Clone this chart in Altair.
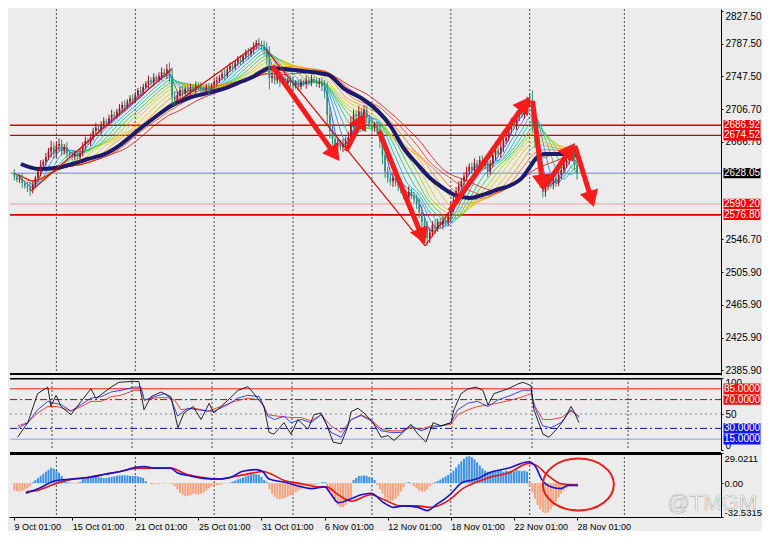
import math
import altair as alt
import numpy as np
import pandas as pd

# ---------------- data ----------------
x_label_bars = [0, 24, 48, 72, 96, 120, 144, 168, 192, 216]
x_labels = ["9 Oct 01:00", "15 Oct 01:00", "21 Oct 01:00", "25 Oct 01:00", "31 Oct 01:00",
            "6 Nov 01:00", "12 Nov 01:00", "18 Nov 01:00", "22 Nov 01:00", "28 Nov 01:00"]
grid_bars = [18, 48, 78, 108, 138, 168, 198, 234]

first_open = 2636
close = [2632, 2628, 2624, 2620, 2622, 2616, 2612, 2610, 2607, 2614,
         2622, 2630, 2638, 2642, 2648, 2655, 2660, 2652, 2662, 2664,
         2655, 2660, 2652, 2650, 2648, 2652, 2648, 2653, 2662, 2668,
         2666, 2672, 2680, 2684, 2680, 2688, 2692, 2690, 2696, 2700,
         2698, 2704, 2708, 2712, 2710, 2716, 2720, 2718, 2724, 2730,
         2728, 2734, 2738, 2742, 2740, 2746, 2744, 2748, 2752, 2750,
         2756, 2748, 2722, 2718, 2724, 2730, 2726, 2732, 2728, 2734,
         2730, 2736, 2734, 2732, 2730, 2734, 2730, 2736, 2740, 2742,
         2746, 2750, 2748, 2756, 2760, 2758, 2764, 2768, 2766, 2772,
         2776, 2774, 2780, 2784, 2788, 2786, 2784, 2780, 2770, 2745,
         2748, 2742, 2746, 2740, 2744, 2738, 2742, 2740, 2736, 2738,
         2734, 2740, 2738, 2742, 2740, 2744, 2742, 2738, 2740, 2735,
         2728, 2700, 2680, 2670, 2662, 2665, 2660, 2664, 2668, 2672,
         2690, 2700, 2698, 2704, 2700, 2706, 2696, 2688, 2684, 2686,
         2680, 2668, 2650, 2630, 2622, 2618, 2622, 2616, 2612, 2608,
         2602, 2598, 2605, 2600, 2596, 2590, 2580, 2568, 2560, 2548,
         2555, 2564, 2560, 2568, 2565, 2570, 2568, 2575, 2586, 2595,
         2606, 2612, 2618, 2624, 2630, 2636, 2632, 2640, 2636, 2644,
         2638, 2642, 2630, 2640, 2650, 2656, 2652, 2660, 2668, 2672,
         2682, 2690, 2686, 2698, 2704, 2700, 2712, 2716, 2718, 2690,
         2668, 2650, 2620, 2605, 2612, 2618, 2614, 2622, 2616, 2626,
         2632, 2640, 2644, 2648, 2650, 2638, 2628]
wick = [4, 3, 5, 3, 4, 6, 3, 5, 7, 4,
        3, 4, 6, 3, 5, 4, 8, 6, 4, 7,
        5, 4, 6, 3, 5, 4, 3, 6, 4, 5,
        3, 5, 4, 6, 3, 4, 5, 3, 4, 6,
        4, 3, 5, 4, 6, 3, 4, 5, 4, 3,
        5, 4, 3, 6, 4, 5, 3, 4, 6, 5,
        6, 8, 10, 7, 5, 4, 6, 3, 5, 4,
        3, 5, 4, 6, 3, 4, 5, 3, 4, 5,
        3, 4, 6, 3, 4, 5, 3, 4, 5, 3,
        4, 6, 3, 5, 4, 6, 5, 7, 9, 14,
        6, 5, 4, 6, 3, 5, 4, 6, 7, 4,
        5, 4, 3, 6, 4, 5, 3, 4, 5, 6,
        8, 12, 9, 7, 6, 5, 4, 6, 5, 7,
        8, 6, 5, 7, 4, 6, 5, 4, 6, 5,
        6, 9, 11, 8, 6, 5, 7, 4, 6, 5,
        6, 5, 7, 4, 5, 6, 7, 8, 6, 9,
        6, 5, 7, 4, 5, 6, 4, 5, 7, 6,
        5, 6, 4, 5, 6, 4, 5, 6, 4, 5,
        6, 5, 7, 4, 5, 6, 4, 5, 6, 4,
        5, 6, 4, 5, 6, 4, 5, 6, 7, 12,
        9, 8, 10, 7, 6, 5, 4, 6, 5, 4,
        5, 4, 6, 5, 4, 6, 8]

navy_bar = [-1.1, 4.5, 11.2, 17.6, 24, 30, 36.4, 42.7, 48.7, 55.1, 61.5, 68.2, 73.9, 81.4,
            88.9, 92.6, 96.4, 99, 105, 111.4, 117.7, 121.5, 127.5, 133.9, 140.2, 145.1,
            150, 155.2, 160.1, 165, 169.5, 175.1, 180, 186.4, 190.1, 195, 197.6, 200.2,
            204, 208.8, 212.6, 216.3]
navy_price = [2645.5, 2639.3, 2633.2, 2634.4, 2639.3, 2645.5, 2651.6, 2663.9, 2679.9,
              2695.9, 2710.7, 2720.5, 2725.4, 2731.6, 2741.4, 2746.3, 2753.7, 2757.4,
              2756.2, 2753.7, 2751.2, 2748.8, 2731.6, 2720.5, 2704.5, 2686.0, 2659.0,
              2639.3, 2622.1, 2609.8, 2601.2, 2597.5, 2601.2, 2608.6, 2612.3, 2622.1,
              2633.2, 2645.5, 2651.6, 2651.6, 2651.6, 2649.2]

ribbon_periods = [4, 7, 10, 13, 16, 19, 22, 26, 30, 34, 39, 44]
ribbon_colors = ["#2050ff", "#1e90ff", "#14b8c8", "#1cc48c", "#3cc83c", "#9ad21e",
                 "#d8d214", "#f5c010", "#f59a14", "#f5731e", "#ee4a1e", "#dc2020"]

price_ticks = [2827.50, 2787.50, 2747.50, 2706.70, 2666.70, 2546.70, 2505.90, 2465.90,
               2425.90, 2385.90]

level_prices = [2686.92, 2674.52, 2628.05, 2590.20, 2576.80]
level_text = ["2686.92", "2674.52", "2628.05", "2590.20", "2576.80"]
level_colors = ["#e00000", "#c80000", "#6f7fe0", "#f09a9a", "#d40000"]
level_widths = [1.6, 1.2, 1.0, 1.0, 1.6]
level_box = ["#f00000", "#f00000", "#000000", "#f00000", "#f00000"]

thin_x1 = [8.3, 64.5, 97.5, 158.2]
thin_p1 = [2606.1, 2716.8, 2780.8, 2538.5]
thin_x2 = [61.9, 95.2, 158.2, 169.5]
thin_p2 = [2756.2, 2788.1, 2538.5, 2590.1]

arrow_x1 = [100.1, 128.2, 140.6, 167.6, 199.1, 204.0, 215.2]
arrow_p1 = [2759.8, 2655.3, 2679.9, 2581.5, 2716.8, 2612.3, 2661.5]
arrow_x2 = [125.6, 135.4, 158.2, 198.0, 203.2, 215.2, 222.4]
arrow_p2 = [2643.0, 2702.0, 2540.9, 2721.7, 2606.1, 2665.1, 2586.4]

# oscillator panel
sto_black_bar = [-1.1, 5.1, 8.9, 12.6, 16.4, 17.6, 19.5, 21.4, 25.1, 28.9, 32.6, 34.5, 40.1,
                 43.1, 48.4, 50.6, 52.5, 55.1, 58.9, 62.6, 65.2, 67.5, 70.9, 73.9, 76.9, 78.7,
                 84, 87.7, 91.5, 93.7, 97.5, 99.4, 101.2, 105, 107.6, 110.2, 114, 116.2, 118.9,
                 120.7, 123.4, 126.4, 129, 130.1, 132.7, 135, 138.4, 141.4, 144, 146.2, 148.9,
                 152.6, 155.2, 158.2, 160.9, 163.9, 167.6, 168.7, 171.4, 174, 177, 179.6,
                 181.5, 183.7, 189, 192.7, 194.6, 197.6, 198.7, 202.1, 204.4, 207.7, 210,
                 212.6, 213.7, 215.6]
sto_black_val = [26.7, 17.7, 37.9, 78.3, 87.3, 60.8, 76, 60.4, 49, 67.5, 85, 71.5, 87.3, 94,
                 95.4, 95, 55.8, 74, 80.5, 74, 31, 51.4, 60.4, 42.3, 64.8, 51.4, 69.3, 82.7,
                 88, 78.3, 60.4, 24.4, 22, 37.9, 22, 42.3, 28.9, 49, 51.4, 37.9, 11, 8.7,
                 33.5, 53, 58, 51.4, 37.9, 17.7, 20, 13.3, 22, 35.6, 22, 11, 37.9, 33.5, 37.9,
                 55.8, 78.3, 85, 87.3, 82.7, 62.5, 78.3, 85, 91.7, 94, 89.5, 55.8, 22, 17.7,
                 31, 42.3, 60.4, 53.6, 37.9]
sto_blue_bar = [-1.1, 5.1, 8.9, 12.6, 16.4, 18.9, 21.4, 25.1, 28.9, 32.6, 36.4, 40.1, 43.9,
                48.9, 51.4, 52.6, 56.4, 60.1, 62.6, 65.1, 68.9, 72.6, 76.4, 78.9, 83.9, 87.6,
                91.4, 95.7, 98.9, 101.4, 105.1, 107.6, 111.4, 115.1, 118.9, 122.6, 126.4,
                130.1, 133.9, 137.6, 141.4, 145.1, 148.9, 152.6, 156.4, 159.5, 163.9, 167.6,
                170.1, 173.9, 177.6, 181.4, 185.1, 190.1, 194.5, 197.6, 198.9, 202, 205.1,
                208.9, 212.6, 215.7]
sto_blue_val = [32, 30, 38, 55.8, 67.5, 65, 63, 54, 63, 72, 74, 80.5, 83, 87.3, 87.3, 69.3,
                74, 78.3, 71.5, 47, 58, 56, 54, 54, 63, 72, 76, 74, 47, 42.3, 47, 38, 42.3,
                38, 49, 24.4, 17.7, 42, 48, 40.6, 26.7, 24.4, 24.4, 33.5, 26.7, 31, 33.5,
                38, 55.8, 65, 67.5, 60.4, 69.3, 76, 83, 83, 60.4, 33.5, 31, 38, 55.8, 45]
sto_red_bar = [-1.1, 5.1, 8.9, 12.6, 16.4, 20.1, 25.1, 28.9, 32.6, 36.4, 40.1, 43.9, 48.9,
               51.4, 52.6, 57.6, 61.4, 63.9, 66.4, 71.4, 76.4, 81.4, 86.4, 91.4, 96.4, 98.9,
               102.6, 107.6, 111.4, 115.1, 118.9, 122.6, 126.4, 130.1, 133.9, 137.6, 141.4,
               145.1, 148.9, 152.6, 156.4, 160.1, 163.9, 167.6, 170.1, 173.9, 177.6, 181.4,
               185.1, 190.1, 194.5, 197.6, 198.9, 202, 205.1, 208.9, 212.6, 215.7]
sto_red_val = [38, 33.5, 38, 51.4, 60.4, 60.4, 54, 60.4, 67.5, 67.5, 74, 76, 83, 83, 69.3,
               72.7, 72.7, 69.3, 56, 58, 54, 60.4, 67.5, 72, 69.3, 49, 47, 45, 45, 40.6, 49,
               33.5, 24.4, 42, 49, 42.3, 29, 26.7, 26.7, 31, 29, 33.5, 33.5, 35.6, 49, 55.8,
               60.4, 62.5, 65, 69.3, 74, 78.3, 62.5, 42.3, 42.3, 45, 54, 47]
sto_levels = [85, 70, 50, 30, 15]
sto_level_colors = ["#e81c1c", "#b4001e", "#8a8a8a", "#10108c", "#9a9aff"]
sto_level_dash = [[1, 0], [7, 3, 2, 3], [2, 3], [7, 3, 2, 3], [1, 0]]
sto_box_vals = [85, 70, 30, 15]
sto_box_text = ["85.0000", "70.0000", "30.0000", "15.0000"]
sto_box_bg = ["#f01010", "#f01010", "#1414f0", "#1414f0"]

# MACD panel
hist = [-4, -6, -7, -8, -8, -7, -6, -5, -3,
        1, 3, 5, 7, 9, 11, 13, 15, 14, 12, 10, 7, 4,
        1, 0.5, 0.3, -0.3, 0.5, 1,
        4, 5, 6, 6, 5.5, 6, 6, 5.5, 5, 5, 5.5, 6, 6.5, 7, 7.5, 7.5, 7.5, 7.5, 7, 7, 7, 6.5, 6, 5,
        2, 0, -1, -1, -0.5, -1, -0.5, 0.3, 0, -0.5, -1,
        -3, -6, -9, -11, -12.5, -12, -11.5, -10, -10.5, -11, -10, -9, -7, -5,
        -3, -2, -2, -1.5, -1, -0.5, 0, 0.5,
        1.5, 2.5, 3.5, 4.5, 5.5, 6.5, 7.5, 8.5, 9, 8.5, 8, 6,
        3, 1,
        -6, -10, -13, -15, -15.5, -15, -14, -13, -12, -11, -9, -7, -6,
        -4, -3, -3, -2, -1.5, -1, -0.5,
        1, 1,
        -4, -9, -14, -18, -21, -23, -23, -21, -18, -14,
        3, 5, 7, 7, 7.5, 7, 6, 5, 3,
        -2, -6, -10, -14, -16, -17, -16.5, -15, -12, -8, -4,
        0.5, 1,
        -1, -3, -5, -7, -8, -8, -6, -3, -1,
        1, 2, 3.5, 5, 6.5, 8, 10, 12, 15, 18, 21, 23.5, 25.5, 26, 25, 23,
        20, 17, 14, 12, 11, 11,
        12, 11, 12, 12.5, 11, 12, 11.5, 12, 11, 12.5, 12, 11.5, 12, 11,
        -3, -9, -15, -21, -25, -28, -29, -28, -25, -22, -18, -14, -10, -7, -5,
        -3, -2, -2, -1.5]
macd_blue_bar = [-1.1, 6.4, 11.2, 17.6, 24, 30, 36.4, 42.7, 48.8, 51.4, 55, 61.5, 63.9, 68.9,
                 73.9, 78.9, 84, 88.9, 93.9, 96.4, 98.9, 105, 111.4, 115.1, 120, 122.6, 125.2,
                 130.1, 133.9, 137.6, 142.5, 146.2, 150, 155.2, 159, 162.7, 167.6, 172.5,
                 177.7, 182.6, 190.1, 197.6, 200.2, 202.5, 206.2, 210, 212.6, 216.3]
macd_blue_val = [-3.6, -9.7, -5.2, 2.4, 3.9, 5.5, 8.5, 11.5, 15.5, 16, 14.5, 14.5, 10, 7, 4.6,
                 3.9, 5.5, 11.5, 13, 11.2, 3.9, 0.9, -3.6, -5.2, -3.6, -11.2, -18.8, -15,
                 -11.2, -9.7, -18.8, -23.3, -21.8, -23, -26.4, -20.3, -11.2, 0.9, 3.9, 10,
                 14.5, 20.6, 16, 3.9, -3.6, -5.2, -2.1, -2.1]
macd_red_bar = [-1.1, 6.4, 11.2, 17.6, 24, 30, 36.4, 42.7, 48.8, 55, 61.5, 67.5, 73.9, 80.2,
                86.2, 92.6, 96.4, 105, 111.4, 117.7, 120.7, 125.2, 130.1, 137.6, 142.5, 148.9,
                155.2, 160.1, 167.6, 172.5, 177.7, 182.6, 190.1, 197.6, 200.2, 205.1, 210,
                216.3]
macd_red_val = [-2, -8.2, -6.7, -0.6, 3.9, 5.5, 8.5, 11.5, 14.5, 14.5, 14.5, 8.5, 5.5, 3.9,
                6.7, 9.7, 11.2, 2.4, -0.6, -3.6, -3.6, -11.2, -17.3, -11.2, -15.8, -21.8,
                -21.8, -23.3, -15.8, -5.2, 0.9, 5.5, 10, 19, 17.6, 7, -0.6, -2.1]
macd_tick_vals = [29.0211, 0, -32.5315]
macd_tick_text = ["29.0211", "0.00", "-32.5315"]
circle_bar = [216.5]
circle_val = [-1.3]

# ---------------- layout / styles ----------------
W = 712
H_MAIN, H_STO, H_MACD = 366, 72, 64
X_DOM = [1.875, 268.85]
P_DOM = [2379.8, 2829.96]
S_DOM = [0, 100]
M_DOM = [-32.5315, 29.0211]
BG = "#ececec"
FONT = "Liberation Sans"
FS = 10
UP, DOWN = "#a8101f", "#2f8f7a"
ARROW_RED = "#f51c1c"
VISIBLE = f"datum.bar >= {X_DOM[0]}"   # the picture starts a little after the first bar

xs = alt.Scale(domain=X_DOM, nice=False, zero=False)
ps = alt.Scale(domain=P_DOM, nice=False, zero=False)
ss = alt.Scale(domain=S_DOM, nice=False, zero=False)
ms = alt.Scale(domain=M_DOM, nice=False, zero=False)

main_axis = alt.Axis(orient="right", values=price_ticks, format=".2f", tickSize=2,
                     labelPadding=2, labelFlush=4, grid=False, domainColor="#000")
sto_axis = alt.Axis(orient="right", values=[100, 50, 0], tickSize=2, labelPadding=2,
                    labelFlush=True, grid=False, domainColor="#000")
macd_expr = " : ".join(
    [f"abs(datum.value - ({v})) < 0.001 ? '{t}'" for v, t in zip(macd_tick_vals, macd_tick_text)]
) + " : ''"
macd_axis = alt.Axis(orient="right", values=macd_tick_vals, labelExpr=macd_expr, tickSize=2,
                     labelPadding=1, labelFlush=True, grid=False, domainColor="#000",
                     labelFontSize=9.5)
x_tick_vals = [max(b, X_DOM[0]) for b in x_label_bars]
x_expr = " : ".join(
    [f"abs(datum.value - {v}) < 0.01 ? '{t}'" for v, t in zip(x_tick_vals, x_labels)]) + " : ''"
x_axis = alt.Axis(orient="bottom", values=x_tick_vals, labelExpr=x_expr, labelAlign="left",
                  labelPadding=2, tickSize=3, labelOverlap=False, labelFlush=False,
                  grid=False, domainColor="#000", labelBound=False, labelFontSize=9)


def XM(f="bar"):
    return alt.X(f"{f}:Q", scale=xs, title=None, axis=None)


def XB(f="bar"):
    return alt.X(f"{f}:Q", scale=xs, title=None, axis=x_axis)


def YP(f):
    return alt.Y(f"{f}:Q", scale=ps, title=None, axis=main_axis)


def YS(f):
    return alt.Y(f"{f}:Q", scale=ss, title=None, axis=sto_axis)


def YM(f):
    return alt.Y(f"{f}:Q", scale=ms, title=None, axis=macd_axis)


one = pd.DataFrame({"k": [0]})
grid_df = pd.DataFrame({"bar": grid_bars})


def border(width, ypix):
    return alt.Chart(one).mark_rule(color="#000", strokeWidth=width).encode(
        x=alt.value(1), x2=alt.value(W), y=alt.value(ypix))


# ---------------- main price panel ----------------
opens = [first_open] + close[:-1]
cdf = pd.DataFrame({"bar": list(range(len(close))), "open": opens, "close": close, "wick": wick})
cdf["high"] = cdf[["open", "close"]].max(axis=1) + cdf["wick"]
cdf["low"] = cdf[["open", "close"]].min(axis=1) - cdf["wick"]
cdf["col"] = np.where(cdf["close"] >= cdf["open"], UP, DOWN)

lvl_df = pd.DataFrame({"price": level_prices, "txt": level_text, "col": level_colors,
                       "w": level_widths, "bg": level_box})
navy_df = pd.DataFrame({"bar": navy_bar, "price": navy_price})
thin_df = pd.DataFrame({"x1": thin_x1, "p1": thin_p1, "x2": thin_x2, "p2": thin_p2})

pxb = W / (X_DOM[1] - X_DOM[0])
pxp = H_MAIN / (P_DOM[1] - P_DOM[0])
HEAD = 360
head_h = math.sqrt(3) * (math.sqrt(HEAD) / 2) / 2
arows = []
for x1, p1, x2, p2 in zip(arrow_x1, arrow_p1, arrow_x2, arrow_p2):
    dx = (x2 - x1) * pxb
    dy = -(p2 - p1) * pxp
    L = math.hypot(dx, dy)
    ux, uy = dx / L, dy / L
    ang = math.degrees(math.atan2(ux, -uy)) % 360
    xc = x2 - head_h * ux / pxb
    pc = p2 + head_h * uy / pxp
    arows.append({"x1": x1, "p1": p1, "xc": xc, "pc": pc, "ang": ang})
arr_df = pd.DataFrame(arows)

BOX_W = 37
RECT = "M-1,-0.28 L1,-0.28 L1,0.28 L-1,0.28 Z"
BOX_X = W + 21

main_layers = [
    alt.Chart(grid_df).mark_rule(color="#222222", strokeDash=[2, 2], strokeWidth=0.8)
    .encode(x=XM()),
    alt.Chart(lvl_df).mark_rule(clip=True).encode(
        x=alt.value(1), x2=alt.value(W),
        y=YP("price"), color=alt.Color("col:N", scale=None),
        strokeWidth=alt.StrokeWidth("w:Q", scale=None)),
]
for per, colr in zip(ribbon_periods, ribbon_colors):
    main_layers.append(
        alt.Chart(cdf).transform_window(ma="mean(close)", frame=[-(per - 1), 0],
                                        sort=[alt.SortField("bar")])
        .transform_filter(VISIBLE)
        .mark_line(color=colr, strokeWidth=0.9, clip=True)
        .encode(x=XM(), y=YP("ma")))
main_layers += [
    alt.Chart(navy_df).transform_filter(VISIBLE)
    .mark_line(color="#1b1b6b", strokeWidth=4, interpolate="monotone", clip=True)
    .encode(x=XM(), y=YP("price")),
    alt.Chart(cdf).transform_filter(VISIBLE).mark_rule(strokeWidth=1, clip=True).encode(
        x=XM(), y=YP("low"), y2="high:Q", color=alt.Color("col:N", scale=None)),
    alt.Chart(cdf).transform_filter(VISIBLE).mark_bar(size=1.7, clip=True).encode(
        x=XM(), y=YP("open"), y2="close:Q", color=alt.Color("col:N", scale=None)),
    alt.Chart(thin_df).mark_rule(color="#e00000", strokeWidth=1.1, clip=True).encode(
        x=XM("x1"), x2="x2:Q", y=YP("p1"), y2="p2:Q"),
    alt.Chart(arr_df).mark_rule(color=ARROW_RED, strokeWidth=5, clip=True).encode(
        x=XM("x1"), x2="xc:Q", y=YP("p1"), y2="pc:Q"),
    alt.Chart(arr_df).mark_point(shape="triangle-up", filled=True, size=HEAD, color=ARROW_RED,
                                 opacity=1, strokeWidth=0).encode(
        x=XM("xc"), y=YP("pc"), angle=alt.Angle("ang:Q", scale=None)),
    border(2, H_MAIN - 1),
    alt.Chart(lvl_df).mark_point(shape=RECT, filled=True, size=BOX_W * BOX_W, opacity=1,
                                 strokeWidth=0).encode(
        x=alt.value(BOX_X), y=YP("price"), fill=alt.Fill("bg:N", scale=None)),
    alt.Chart(lvl_df).mark_text(color="white", font=FONT, fontSize=FS, align="center",
                                baseline="middle").encode(
        x=alt.value(BOX_X), y=YP("price"), text="txt:N"),
]
main = alt.layer(*main_layers).properties(width=W, height=H_MAIN)

# ---------------- oscillator panel ----------------
sb = pd.DataFrame({"bar": sto_black_bar, "v": sto_black_val})
sbl = pd.DataFrame({"bar": sto_blue_bar, "v": sto_blue_val})
sr = pd.DataFrame({"bar": sto_red_bar, "v": sto_red_val})
sbox = pd.DataFrame({"v": sto_box_vals, "txt": sto_box_text, "bg": sto_box_bg})

sto_layers = [
    alt.Chart(grid_df).mark_rule(color="#222222", strokeDash=[2, 2], strokeWidth=0.8)
    .encode(x=XM()),
]
for lv, lc, ld in zip(sto_levels, sto_level_colors, sto_level_dash):
    sto_layers.append(
        alt.Chart(pd.DataFrame({"v": [lv]})).mark_rule(color=lc, strokeDash=ld, strokeWidth=1)
        .encode(x=alt.value(1), x2=alt.value(W), y=YS("v")))
for sdf, scol in [(sr, "#ee3322"), (sbl, "#2233ee"), (sb, "#111111")]:
    sto_layers.append(
        alt.Chart(sdf).transform_filter(VISIBLE)
        .mark_line(color=scol, strokeWidth=0.9, clip=True).encode(x=XM(), y=YS("v")))
sto_layers += [
    border(1.5, 0.75),
    alt.Chart(sbox).mark_point(shape=RECT, filled=True, size=BOX_W * BOX_W, opacity=1,
                               strokeWidth=0).encode(
        x=alt.value(BOX_X), y=YS("v"), fill=alt.Fill("bg:N", scale=None)),
    alt.Chart(sbox).mark_text(color="white", font=FONT, fontSize=FS, align="center",
                              baseline="middle").encode(
        x=alt.value(BOX_X), y=YS("v"), text="txt:N"),
]
sto = alt.layer(*sto_layers).properties(width=W, height=H_STO)

# ---------------- MACD panel ----------------
hdf = pd.DataFrame({"bar": list(range(len(hist))), "h": hist})
hdf["col"] = np.where(hdf["h"] >= 0, "#3a93e6", "#f6a27a")
mb = pd.DataFrame({"bar": macd_blue_bar, "v": macd_blue_val})
mr = pd.DataFrame({"bar": macd_red_bar, "v": macd_red_val})
circ = pd.DataFrame({"bar": circle_bar, "v": circle_val})
ELLIPSE = "M-1,0 A1,0.73 0 1 1 1,0 A1,0.73 0 1 1 -1,0 Z"

macd_layers = [
    alt.Chart(grid_df).mark_rule(color="#222222", strokeDash=[2, 2], strokeWidth=0.8)
    .encode(x=XB()),
    alt.Chart(hdf).transform_filter(VISIBLE).mark_bar(size=2, clip=True).encode(
        x=XB(), y=YM("h"), y2=alt.datum(0), color=alt.Color("col:N", scale=None)),
    alt.Chart(mr).transform_filter(VISIBLE)
    .mark_line(color="#e81414", strokeWidth=1.6, interpolate="monotone", clip=True)
    .encode(x=XB(), y=YM("v")),
    alt.Chart(mb).transform_filter(VISIBLE)
    .mark_line(color="#1414c8", strokeWidth=1.6, interpolate="monotone", clip=True)
    .encode(x=XB(), y=YM("v")),
    alt.Chart(circ).mark_point(shape=ELLIPSE, filled=False, size=71 * 71, color="#e8201a",
                               strokeWidth=2, opacity=1).encode(x=XB(), y=YM("v")),
    border(3, 0.5),
    alt.Chart(one).mark_text(text="@TMGM", font=FONT, fontSize=22, color="#ffffff",
                             stroke="#b4b4b4", strokeWidth=0.7, align="right",
                             baseline="middle").encode(x=alt.value(W + 36), y=alt.value(50)),
]
macd = alt.layer(*macd_layers).properties(width=W, height=H_MACD)

chart = (
    alt.vconcat(main, sto, macd, spacing=3, bounds="flush")
    .properties(padding=0, background=BG)
    .configure_view(stroke=None, fill=BG)
    .configure_axis(labelFont=FONT, labelFontSize=FS, labelColor="#000", tickColor="#000",
                    domainColor="#000", grid=False)
)
chart.save("out.html", embed_options={"renderer": "svg", "actions": False})
